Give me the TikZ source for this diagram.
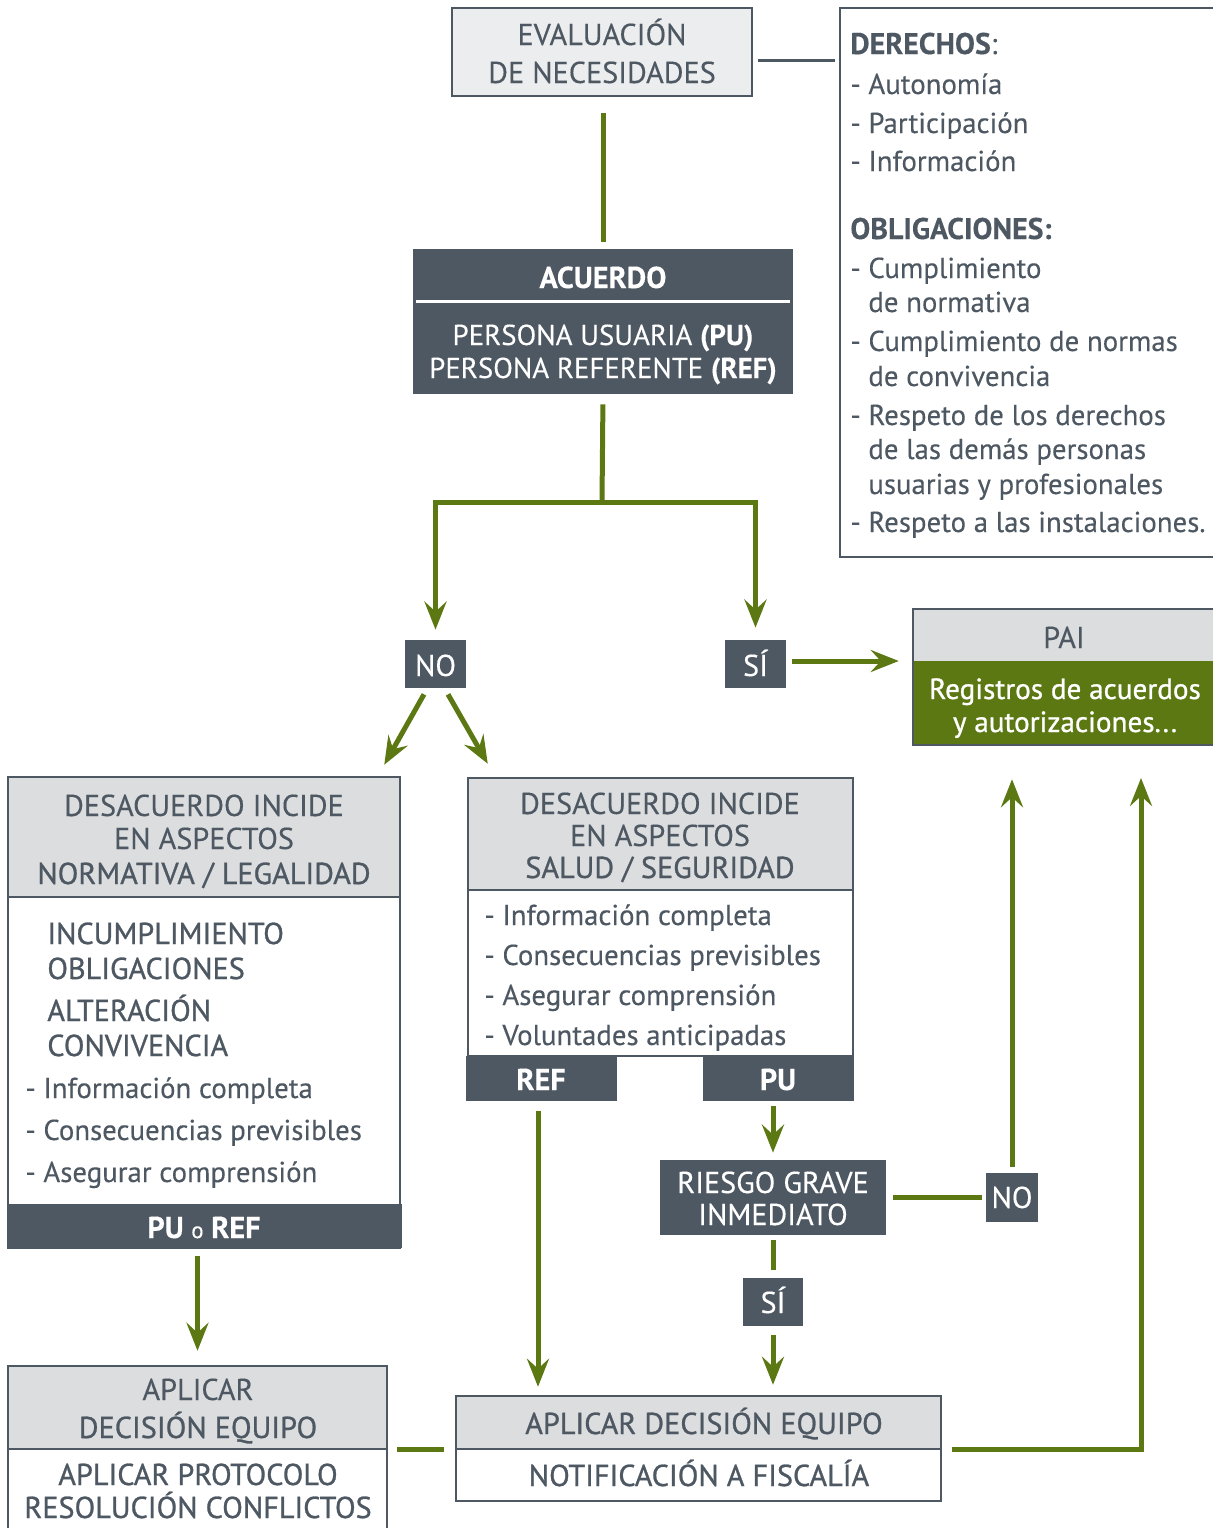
\documentclass[tikz,border=0pt]{standalone}
\usepackage{fontspec}
\setmainfont{PT Sans}[FakeBold=0.25]
\newfontfamily\medfont{PT Sans}[FakeBold=0.9]
\usetikzlibrary{arrows.meta,fit,calc}
\definecolor{slate}{HTML}{4E5862}
\definecolor{pale}{HTML}{DCDDDF}
\definecolor{paler}{HTML}{ECEDEE}
\definecolor{olive}{HTML}{5C7813}
\begin{document}
\begin{tikzpicture}[x=0.02cm,y=-0.02cm,
  frame/.style={draw=slate,line width=0.05cm,inner sep=0pt},
  panel/.style={fill=#1,inner sep=0pt},
  flow/.style={draw=olive,line width=0.1cm},
  arrow/.style={flow,-{Stealth[length=0.56cm,width=0.44cm,inset=0.2cm]}},
  rule/.style={draw=slate,line width=0.06cm},
  hd/.style={inner sep=0pt,anchor=base,text=slate,font=\fontsize{17.2}{20}\selectfont},
  hdm/.style={hd,font=\fontsize{17.2}{20}\medfont},
  wt/.style={inner sep=0pt,anchor=base,text=white,font=\fontsize{17.2}{20}\selectfont},
  wts/.style={wt,font=\fontsize{16.4}{19}\selectfont},
  wtb/.style={wt,font=\fontsize{17.2}{20}\bfseries},
  wtm/.style={wt,font=\fontsize{16.6}{19}\medfont},
  li/.style={inner sep=0pt,anchor=base west,text=slate,font=\fontsize{16.4}{19}\selectfont},
  lim/.style={li,font=\fontsize{17.2}{20}\medfont},
  lib/.style={li,font=\fontsize{17}{20}\bfseries},
]
\useasboundingbox (0,0) rectangle (1213,1528);

% ---- top: needs assessment and rights/obligations
\node[frame,fill=paler,fit={(452,8) (752,96)}] (eval) {};
\node[hd] (evalA) at (602,45) {EVALUACIÓN};
\node[hd] (evalB) at (602,83) {DE NECESIDADES};

\node[frame,fit={(840,8) (1240,557)}] (dere) {};
\node[lib] (d0) at (850,54) {DERECHOS\mdseries:};
\node[li] (d1) at (850,94) {- Autonomía};
\node[li] (d2) at (850,133) {- Participación};
\node[li] (d3) at (850,171) {- Información};
\node[lib] (o0) at (850,239) {OBLIGACIONES:};
\node[li] (o1) at (850,278) {- Cumplimiento};
\node[li] (o1b) at (868,312) {de normativa};
\node[li] (o2) at (850,351) {- Cumplimiento de normas};
\node[li] (o2b) at (868,386) {de convivencia};
\node[li] (o3) at (850,425) {- Respeto de los derechos};
\node[li] (o3b) at (868,459) {de las demás personas};
\node[li] (o3c) at (868,494) {usuarias y profesionales};
\node[li] (o4) at (850,532) {- Respeto a las instalaciones.};

\draw[rule] ([shift={(5,8)}]eval.east) -- ([shift={(-4,0)}]dere.west |- {$(eval.east)+(0,8)$});

% ---- agreement
\node[panel=slate,fit={(413,249) (793,394)}] (acu) {};
\draw[white,line width=0.06cm] ([shift={(3,53)}]acu.north west) -- ([shift={(-3,53)}]acu.north east);
\node[wtb] (acuT) at (603,288) {ACUERDO};
\node[wts] (acuA) at (603,345) {PERSONA USUARIA \textbf{(PU)}};
\node[wts] (acuB) at (603,378) {PERSONA REFERENTE \textbf{(REF)}};

\draw[flow,shorten <=0.32cm,shorten >=0.14cm] (eval.south -| acu.north) -- (acu.north);

% ---- yes / no
\node[panel=slate,fit={(405,640) (466,688)}] (no1) {};
\node[wt] (no1t) at (435.5,676) {NO};
\node[panel=slate,fit={(725,640) (786,688)}] (si1) {};
\node[wt] (si1t) at (755.5,676) {SÍ};

\coordinate (fork) at (602,502);
\draw[flow,shorten <=0.2cm] (acu.south) -- (fork);
\draw[arrow,shorten >=0.2cm] (fork) -| (no1.north);
\draw[arrow,shorten >=0.24cm] (fork) -| (si1.north);

% ---- individual plan
\node[frame,fit={(913,609) (1240,745)}] (pai) {};
\node[panel=pale,fit={(914,610) (1240,661)}] (paiH) {};
\node[panel=olive,fit={(914,661) (1240,744)}] (paiB) {};
\node[hd] (paiT) at (1064,648) {PAI};
\node[wtm] (paiA) at (1065,699) {Registros de acuerdos};
\node[wtm] (paiC) at (1065,732) {y autorizaciones...};

\draw[arrow,shorten <=0.12cm,shorten >=0.26cm] ([yshift=0.06cm]si1.east) -- ([yshift=0.06cm]si1.east -| pai.west);

% ---- disagreement: rules / legality
\node[frame,fill=white,fit={(8,777) (400,1248)}] (lbox) {};
\node[panel=pale,fit={(9,778) (399,897)}] (lboxH) {};
\draw[slate,line width=0.04cm] (lboxH.south west) -- (lboxH.south east);
\node[hd] (l1) at (204,816) {DESACUERDO INCIDE};
\node[hd] (l2) at (204,849) {EN ASPECTOS};
\node[hdm] (l3) at (204,884) {NORMATIVA / LEGALIDAD};
\node[lim] (l4) at (47,944) {INCUMPLIMIENTO};
\node[lim] (l5) at (47,979) {OBLIGACIONES};
\node[lim] (l6) at (47,1021) {ALTERACIÓN};
\node[lim] (l7) at (47,1056) {CONVIVENCIA};
\node[li] (l8) at (25,1098) {- Información completa};
\node[li] (l9) at (25,1140) {- Consecuencias previsibles};
\node[li] (l10) at (25,1182) {- Asegurar comprensión};
\node[panel=slate,fit={(7,1204) (402,1248)}] (lbar) {};
\node[wtb] (lbarT) at (204,1238) {PU {\mdseries\fontsize{13}{15}\selectfont o} REF};

% ---- disagreement: health / safety
\node[frame,fill=white,fit={(468,778) (853,1056)}] (mbox) {};
\node[panel=pale,fit={(469,779) (852,890)}] (mboxH) {};
\draw[slate,line width=0.04cm] (mboxH.south west) -- (mboxH.south east);
\node[hd] (m1) at (660,814) {DESACUERDO INCIDE};
\node[hd] (m2) at (660,846) {EN ASPECTOS};
\node[hdm] (m3) at (660,878) {SALUD / SEGURIDAD};
\node[li] (m4) at (484,925) {- Información completa};
\node[li] (m5) at (484,965) {- Consecuencias previsibles};
\node[li] (m6) at (484,1005) {- Asegurar comprensión};
\node[li] (m7) at (484,1045) {- Voluntades anticipadas};
\node[panel=slate,fit={(466,1056) (617,1101)}] (refbar) {};
\node[wtb] (refT) at (541,1090) {REF};
\node[panel=slate,fit={(703,1056) (854,1101)}] (pubar) {};
\node[wtb] (puT) at (778,1090) {PU};

\draw[arrow] ([shift={(-11.5,6)}]no1.south) -- ([shift={(-17,-11)}]lbox.north east);
\draw[arrow] ([shift={(12.5,6)}]no1.south) -- ([shift={(21,-13)}]mbox.north west);

% ---- serious risk decision
\node[panel=slate,fit={(660,1160) (886,1235)}] (riesgo) {};
\node[wt] (r1) at (773,1193) {RIESGO GRAVE};
\node[wt] (r2) at (773,1225) {INMEDIATO};
\node[panel=slate,fit={(986,1173) (1038,1222)}] (no2) {};
\node[wt] (no2t) at (1012,1208) {NO};
\node[panel=slate,fit={(743,1278) (803,1326)}] (si2) {};
\node[wt] (si2t) at (773,1313) {SÍ};

\draw[arrow,shorten <=0.1cm,shorten >=0.14cm] (pubar.south -| riesgo.north) -- (riesgo.north);
\draw[flow,shorten <=0.14cm,shorten >=0.08cm] (riesgo) -- (no2);
\draw[arrow,shorten <=0.12cm,shorten >=0.66cm] (no2.north) -- (no2.north |- pai.south);
\draw[flow,shorten <=0.1cm,shorten >=0.16cm] (riesgo.south) -- (si2.north);

% ---- team decisions
\node[frame,fill=white,fit={(8,1366) (387,1545)}] (blbox) {};
\node[panel=pale,fit={(9,1367) (386,1449)}] (blboxH) {};
\draw[slate,line width=0.04cm] (blboxH.south west) -- (blboxH.south east);
\node[hd] (b1) at (198,1400) {APLICAR};
\node[hdm] (b2) at (198,1438) {DECISIÓN EQUIPO};
\node[hdm] (b3) at (198,1485) {APLICAR PROTOCOLO};
\node[hdm] (b4) at (198,1518) {RESOLUCIÓN CONFLICTOS};

\node[frame,fill=white,fit={(456,1396) (941,1501)}] (bmbox) {};
\node[panel=pale,fit={(457,1397) (940,1449)}] (bmboxH) {};
\draw[slate,line width=0.04cm] (bmboxH.south west) -- (bmboxH.south east);
\node[hdm] (c1) at (704,1434) {APLICAR DECISIÓN EQUIPO};
\node[hdm] (c2) at (699,1486) {NOTIFICACIÓN A FISCALÍA};

\draw[arrow,shorten <=0.16cm,shorten >=0.28cm] (lbar.south -| blbox.north) -- (blbox.north);
\draw[arrow,shorten <=0.2cm,shorten >=0.16cm] ([xshift=-0.07cm]refbar.south) -- ([xshift=-0.07cm]refbar.south |- bmbox.north);
\draw[arrow,shorten <=0.18cm,shorten >=0.2cm] (si2.south) -- (si2.south |- bmbox.north);
\draw[flow,shorten <=0.18cm,shorten >=0.22cm] (bmboxH.south -| blbox.east) -- (bmboxH.south -| bmbox.west);

\coordinate (back) at (1141,745);
\draw[arrow,shorten <=0.2cm,shorten >=0.66cm] (bmboxH.south -| bmbox.east) -| (back);
\end{tikzpicture}
\end{document}
